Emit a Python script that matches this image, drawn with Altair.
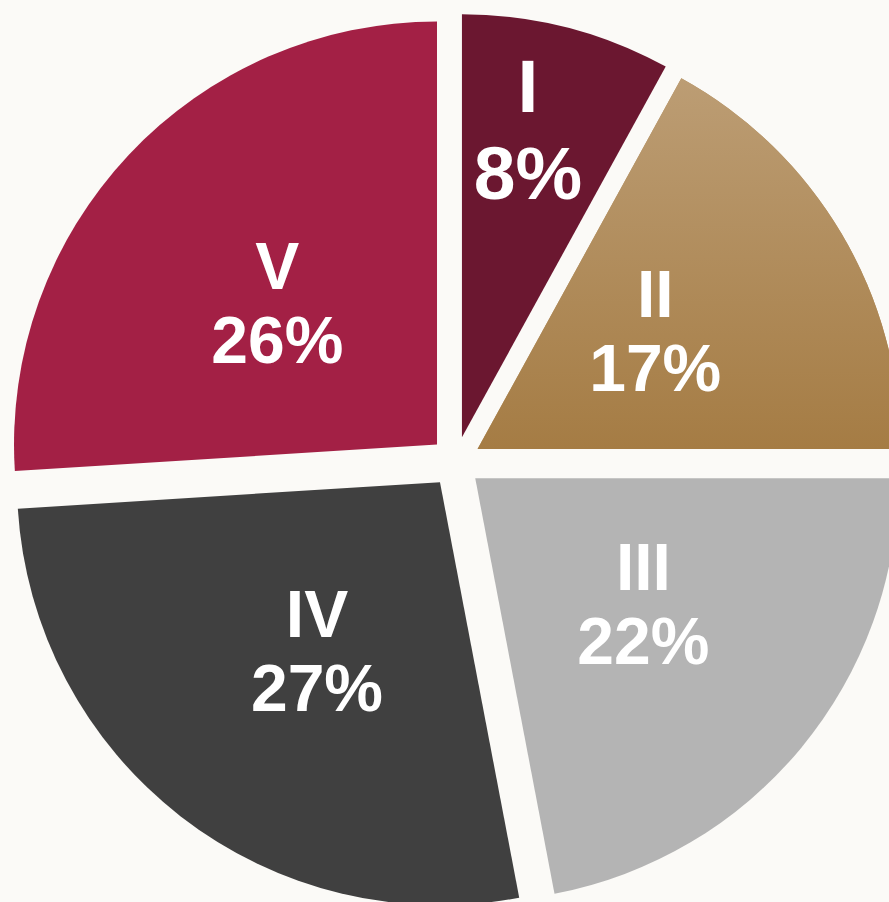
import altair as alt
import pandas as pd

# ---- data ----
categories = ["I", "II", "III", "IV", "V"]
shares = [8, 17, 22, 27, 26]
slice_colors = ["#6B1730", "#B38E5E", "#B4B4B4", "#404040", "#A32045"]

df = pd.DataFrame({
    "cat": categories,
    "pct": shares,
    "order": list(range(len(categories))),
})

# layout constants (pie centre, radius, explosion distance)
CX, CY, R, D = 455.6, 462.0, 423, 25.5

base = (
    alt.Chart(df)
    .transform_window(cum="sum(pct)", sort=[alt.SortField("order")], frame=[None, 0])
    .transform_joinaggregate(total="sum(pct)")
    .transform_calculate(
        t1="2*PI*(datum.cum - datum.pct)/datum.total",
        t2="2*PI*datum.cum/datum.total",
    )
    .transform_calculate(
        mid="(datum.t1 + datum.t2)/2",
    )
    .transform_calculate(
        cx=f"{CX} + {D}*sin(datum.mid)",
        cy=f"{CY} - {D}*cos(datum.mid)",
        lr="datum.pct < 10 ? 337 : 237",
        fs="datum.pct < 10 ? 75 : 66",
        half="datum.pct < 10 ? 43.5 : 37",
        pl="datum.pct + '%'",
    )
    .transform_calculate(
        tx=f"{CX} + datum.lr*sin(datum.mid - 0.035)",
        tyc=f"{CY} - datum.lr*cos(datum.mid - 0.035)",
    )
    .transform_calculate(
        ty1="datum.tyc - datum.half",
        ty2="datum.tyc + datum.half",
    )
)

pos = dict(
    theta=alt.Theta("t1:Q", scale=None),
    theta2=alt.Theta2("t2:Q"),
    x=alt.X("cx:Q", scale=None, axis=None),
    y=alt.Y("cy:Q", scale=None, axis=None),
)

arcs = base.mark_arc(outerRadius=R, stroke=None).encode(
    color=alt.Color(
        "cat:N",
        scale=alt.Scale(domain=categories, range=slice_colors),
        legend=None,
    ),
    **pos,
)

gradient = alt.LinearGradient(
    gradient="linear",
    stops=[
        alt.GradientStop(color="#BC9D74", offset=0),
        alt.GradientStop(color="#A57C44", offset=1),
    ],
    x1=0, x2=0, y1=0, y2=1,
)

arc_ii = (
    base.transform_filter(alt.datum.cat == "II")
    .mark_arc(outerRadius=R, color=gradient, stroke=None)
    .encode(**pos)
)

text_style = dict(
    font="Liberation Sans",
    fontWeight="bold",
    color="white",
    align="center",
    baseline="middle",
)

lab1 = base.mark_text(**text_style).encode(
    x=alt.X("tx:Q", scale=None, axis=None),
    y=alt.Y("ty1:Q", scale=None, axis=None),
    text=alt.Text("cat:N"),
    size=alt.Size("fs:Q", scale=None, legend=None),
)

lab2 = base.mark_text(**text_style).encode(
    x=alt.X("tx:Q", scale=None, axis=None),
    y=alt.Y("ty2:Q", scale=None, axis=None),
    text=alt.Text("pl:N"),
    size=alt.Size("fs:Q", scale=None, legend=None),
)

chart = (
    alt.layer(arcs, arc_ii, lab1, lab2)
    .properties(
        width=889,
        height=902,
        autosize=alt.AutoSizeParams(type="none"),
        padding=0,
        background="#FBFAF7",
    )
    .configure_view(stroke=None)
)

chart.save("out.html", embed_options={"renderer": "svg", "actions": False})
